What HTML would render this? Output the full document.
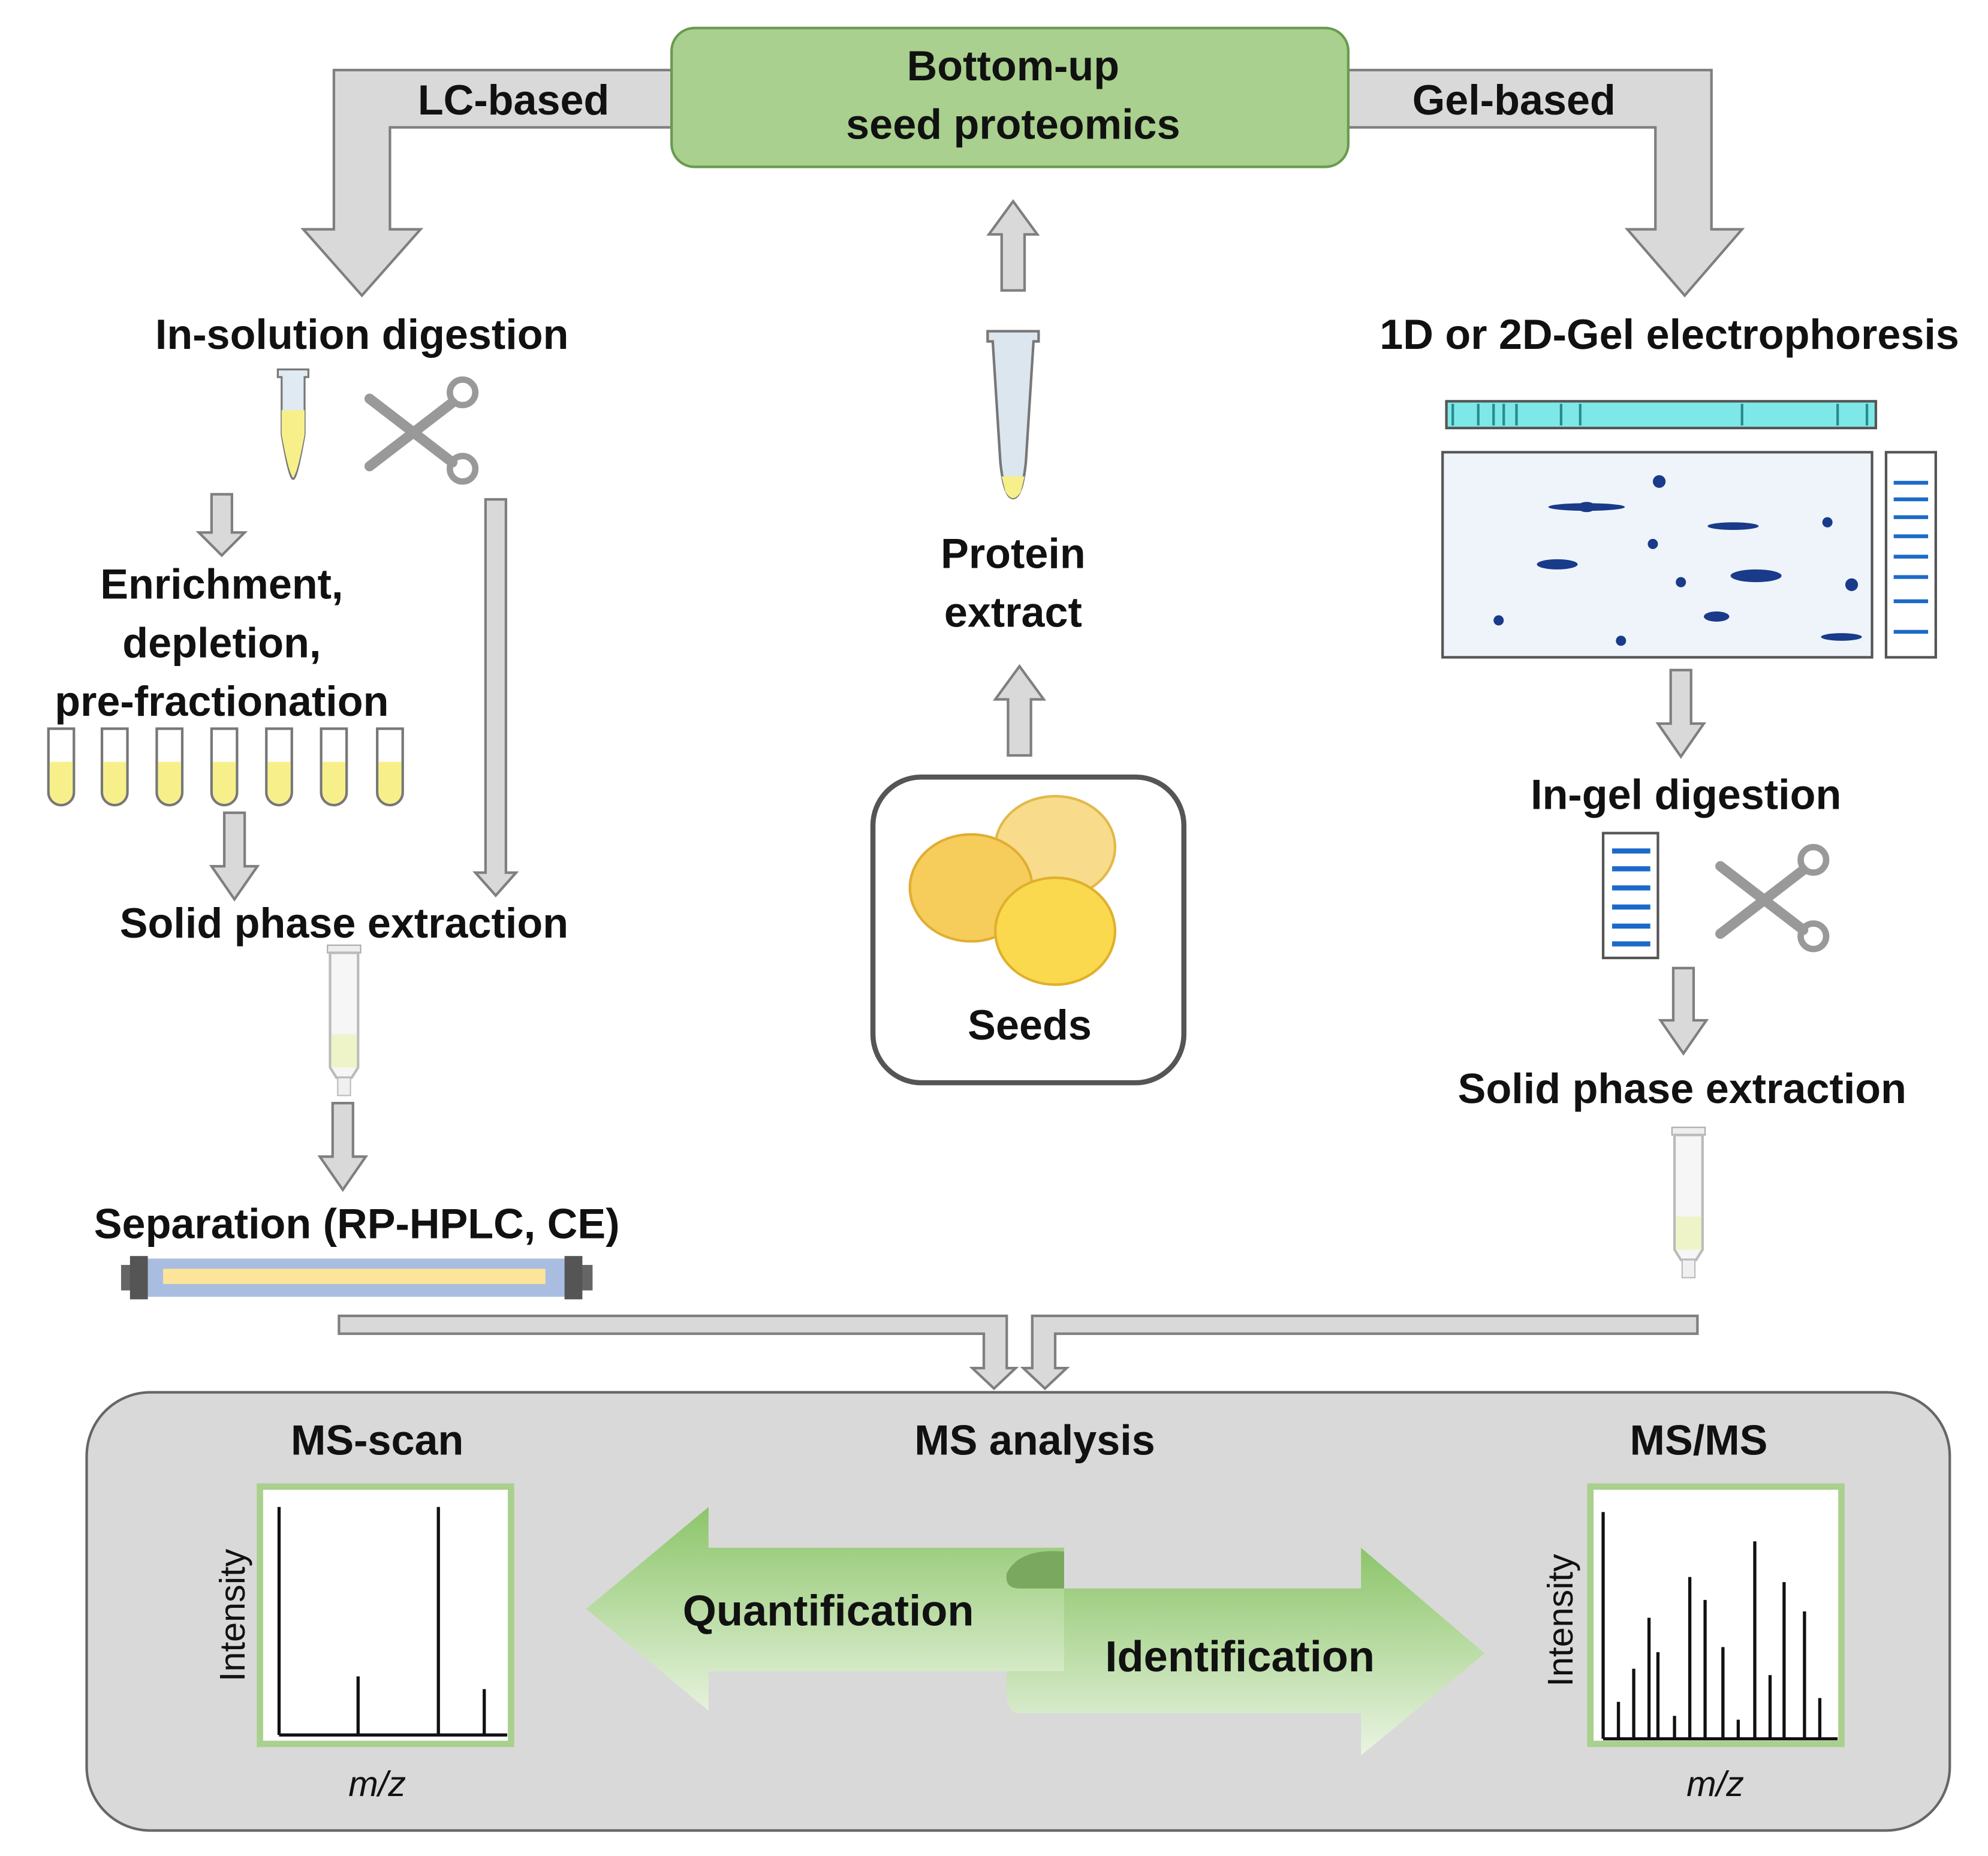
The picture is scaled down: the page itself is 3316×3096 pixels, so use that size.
<!DOCTYPE html>
<html><head><meta charset="utf-8"><style>
html,body{margin:0;padding:0;background:#fff}
svg{display:block}
text{font-family:"Liberation Sans",sans-serif;font-weight:bold;fill:#111;text-anchor:middle}
</style></head><body>
<svg width="3316" height="3096" viewBox="0 0 1560 1457" preserveAspectRatio="none" xmlns="http://www.w3.org/2000/svg">
<defs>
<linearGradient id="gq" x1="0" y1="0" x2="0" y2="1"><stop offset="0" stop-color="#8cc56a"/><stop offset="1" stop-color="#e6f2dc"/></linearGradient>
<linearGradient id="gi" x1="0" y1="0" x2="0" y2="1"><stop offset="0" stop-color="#8cc56a"/><stop offset="1" stop-color="#eaf4e2"/></linearGradient>
<g id="arr"><polygon points="-8,0 8,0 8,30 18,30 0,48 -18,30 -8,30" fill="#d9d9d9" stroke="#7f7f7f" stroke-width="2"/></g>
<g id="uarr"><polygon points="-9,70 9,70 9,26 19,26 0,0 -19,26 -9,26" fill="#d9d9d9" stroke="#7f7f7f" stroke-width="2"/></g>
<g id="tube"><path d="M-10,0 h20 v50 a10,10 0 0 1 -20,0 z" fill="#fff" stroke="#777" stroke-width="2"/><path d="M-9,26 h18 v24 a9,9 0 0 1 -18,0 z" fill="#f7f08a"/></g>
<g id="spe"><rect x="-13" y="0" width="26" height="6" fill="#eee" stroke="#aaa"/><path d="M-11,6 h22 v90 l-5,8 h-12 l-5,-8 z" fill="#f6f6f6" stroke="#bbb" stroke-width="2"/><rect x="-10" y="70" width="20" height="26" fill="#eef3c8"/><rect x="-5" y="104" width="10" height="14" fill="#f0f0f0" stroke="#bbb"/></g>
<g id="sc" fill="none" stroke="#999" stroke-width="8" stroke-linecap="round"><line x1="-40" y1="-25" x2="25" y2="25"/><line x1="-40" y1="28" x2="25" y2="-22"/><circle cx="33" cy="-30" r="10" stroke-width="5"/><circle cx="33" cy="30" r="10" stroke-width="5"/></g>
</defs>

<polygon points="527,55 262,55 262,180 238,180 284,232 330,180 306,180 306,100 527,100" fill="#d9d9d9" stroke="#7f7f7f" stroke-width="2"/>
<polygon points="1058,55 1343,55 1343,180 1367,180 1322,232 1277,180 1299,180 1299,100 1058,100" fill="#d9d9d9" stroke="#7f7f7f" stroke-width="2"/>
<text x="403" y="90" font-size="33">LC-based</text>
<text x="1188" y="90" font-size="33">Gel-based</text>
<rect x="527" y="22" width="531" height="109" rx="18" fill="#a9d08e" stroke="#6a9a50" stroke-width="2"/>
<text x="795" y="63" font-size="33">Bottom-up</text>
<text x="795" y="109" font-size="33">seed proteomics</text>

<use href="#uarr" x="795" y="158"/>
<path d="M775,260 h40 v8 l-4,0 l-6,95 q-3,28 -10,28 q-7,0 -10,-28 l-6,-95 h-4 z" fill="#dce6ee" stroke="#777" stroke-width="2"/>
<path d="M786,374 h18 l-3,12 q-6,10 -12,0 z" fill="#f7f08a"/>
<text x="795" y="446" font-size="33">Protein</text>
<text x="795" y="492" font-size="33">extract</text>
<use href="#uarr" x="800" y="523"/>
<rect x="685" y="610" width="244" height="240" rx="38" fill="#fff" stroke="#555" stroke-width="4"/>
<ellipse cx="828" cy="665" rx="47" ry="40" fill="#f8dc8c" stroke="#e2b94a" stroke-width="2"/>
<ellipse cx="762" cy="697" rx="48" ry="42" fill="#f6cd5a" stroke="#e0ae34" stroke-width="2"/>
<ellipse cx="828" cy="731" rx="47" ry="42" fill="#fbd94e" stroke="#e0b02c" stroke-width="2"/>
<text x="808" y="816" font-size="33">Seeds</text>

<text x="284" y="274" font-size="33">In-solution digestion</text>
<path d="M218,290 h24 v6 h-3 v45 q-6,35 -9,35 q-3,0 -9,-35 v-45 h-3 z" fill="#e0eaf2" stroke="#777" stroke-width="1.5"/>
<path d="M221,322 h18 v19 q-6,33 -9,33 q-3,0 -9,-33 z" fill="#f7f08a"/>
<use href="#sc" x="330" y="338"/>
<use href="#arr" x="174" y="388"/>
<text x="174" y="470" font-size="33">Enrichment,</text>
<text x="174" y="516" font-size="33">depletion,</text>
<text x="174" y="562" font-size="33">pre-fractionation</text>
<use href="#tube" x="48" y="572"/><use href="#tube" x="90" y="572"/><use href="#tube" x="133" y="572"/><use href="#tube" x="176" y="572"/><use href="#tube" x="219" y="572"/><use href="#tube" x="262" y="572"/><use href="#tube" x="306" y="572"/>
<polygon points="176,638 192,638 192,680 202,680 184,706 166,680 176,680" fill="#d9d9d9" stroke="#7f7f7f" stroke-width="2"/>
<polygon points="381,392 397,392 397,685 405,685 389,703 373,685 381,685" fill="#d9d9d9" stroke="#7f7f7f" stroke-width="2"/>
<text x="270" y="736" font-size="33">Solid phase extraction</text>
<use href="#spe" x="270" y="742"/>
<polygon points="261,866 277,866 277,908 287,908 269,934 251,908 261,908" fill="#d9d9d9" stroke="#7f7f7f" stroke-width="2"/>
<text x="280" y="972" font-size="33">Separation (RP-HPLC, CE)</text>
<rect x="110" y="988" width="340" height="30" fill="#a9bde0"/>
<rect x="128" y="996" width="300" height="12" fill="#fce49a"/>
<rect x="95" y="993" width="20" height="20" fill="#666"/><rect x="102" y="986" width="14" height="34" fill="#555"/>
<rect x="445" y="993" width="20" height="20" fill="#666"/><rect x="443" y="986" width="14" height="34" fill="#555"/>

<text x="1310" y="274" font-size="33">1D or 2D-Gel electrophoresis</text>
<rect x="1135" y="315" width="337" height="21" fill="#7ee8e8" stroke="#555" stroke-width="2"/>
<g stroke="#2a8a8a" stroke-width="2"><line x1="1140" y1="317" x2="1140" y2="334"/><line x1="1160" y1="317" x2="1160" y2="334"/><line x1="1172" y1="317" x2="1172" y2="334"/><line x1="1180" y1="317" x2="1180" y2="334"/><line x1="1190" y1="317" x2="1190" y2="334"/><line x1="1225" y1="317" x2="1225" y2="334"/><line x1="1240" y1="317" x2="1240" y2="334"/><line x1="1367" y1="317" x2="1367" y2="334"/><line x1="1442" y1="317" x2="1442" y2="334"/><line x1="1465" y1="317" x2="1465" y2="334"/></g>
<rect x="1132" y="355" width="337" height="161" fill="#eef4fa" stroke="#555" stroke-width="2"/>
<g fill="#1a3a8a">
<ellipse cx="1245" cy="398" rx="30" ry="3"/><ellipse cx="1245" cy="398" rx="7" ry="4"/>
<circle cx="1302" cy="378" r="5"/><ellipse cx="1360" cy="413" rx="20" ry="3"/><circle cx="1434" cy="410" r="4"/>
<ellipse cx="1222" cy="443" rx="16" ry="4"/><circle cx="1297" cy="427" r="4"/><ellipse cx="1378" cy="452" rx="20" ry="5"/>
<circle cx="1319" cy="457" r="4"/><circle cx="1453" cy="459" r="5"/><circle cx="1176" cy="487" r="4"/>
<ellipse cx="1347" cy="484" rx="10" ry="4"/><circle cx="1272" cy="503" r="4"/><ellipse cx="1445" cy="500" rx="16" ry="3"/>
</g>
<rect x="1480" y="355" width="39" height="161" fill="#fff" stroke="#555" stroke-width="2"/>
<g stroke="#1b6ac9" stroke-width="3"><line x1="1486" y1="379" x2="1513" y2="379"/><line x1="1486" y1="392" x2="1513" y2="392"/><line x1="1486" y1="406" x2="1513" y2="406"/><line x1="1486" y1="421" x2="1513" y2="421"/><line x1="1486" y1="437" x2="1513" y2="437"/><line x1="1486" y1="453" x2="1513" y2="453"/><line x1="1486" y1="472" x2="1513" y2="472"/><line x1="1486" y1="496" x2="1513" y2="496"/></g>
<polygon points="1311,526 1327,526 1327,568 1337,568 1319,594 1301,568 1311,568" fill="#d9d9d9" stroke="#7f7f7f" stroke-width="2"/>
<text x="1323" y="635" font-size="33">In-gel digestion</text>
<rect x="1258" y="654" width="43" height="98" fill="#fff" stroke="#555" stroke-width="2"/>
<g stroke="#1b6ac9" stroke-width="4"><line x1="1265" y1="668" x2="1295" y2="668"/><line x1="1265" y1="682" x2="1295" y2="682"/><line x1="1265" y1="697" x2="1295" y2="697"/><line x1="1265" y1="712" x2="1295" y2="712"/><line x1="1265" y1="727" x2="1295" y2="727"/><line x1="1265" y1="741" x2="1295" y2="741"/></g>
<use href="#sc" x="1390" y="705"/>
<polygon points="1313,760 1329,760 1329,801 1339,801 1321,827 1303,801 1313,801" fill="#d9d9d9" stroke="#7f7f7f" stroke-width="2"/>
<text x="1320" y="866" font-size="33">Solid phase extraction</text>
<use href="#spe" x="1325" y="885"/>

<polygon points="266,1033 790,1033 790,1074 797,1074 780,1090 763,1074 772,1074 772,1047 266,1047" fill="#d9d9d9" stroke="#7f7f7f" stroke-width="2"/>
<polygon points="1332,1033 810,1033 810,1074 803,1074 820,1090 837,1074 828,1074 828,1047 1332,1047" fill="#d9d9d9" stroke="#7f7f7f" stroke-width="2"/>

<rect x="68" y="1093" width="1462" height="344" rx="50" fill="#d9d9d9" stroke="#666" stroke-width="2"/>
<text x="296" y="1142" font-size="33">MS-scan</text>
<text x="812" y="1142" font-size="33">MS analysis</text>
<text x="1333" y="1142" font-size="33">MS/MS</text>

<path d="M790,1247 H1068 V1215 L1165,1298 L1068,1378 V1345 H800 Q788,1345 790,1320 Z" fill="url(#gi)"/>
<path d="M835,1215 H556 V1183 L460,1263 L556,1343 V1312 H835 Z" fill="url(#gq)"/>
<path d="M790,1235 Q800,1215 835,1218 V1247 H800 Q788,1247 790,1235 Z" fill="#7aa85e"/>
<text x="650" y="1276" font-size="34">Quantification</text>
<text x="973" y="1312" font-size="34">Identification</text>

<rect x="204" y="1167" width="197" height="202" fill="#fff" stroke="#a9d08e" stroke-width="5"/>
<g stroke="#111" stroke-width="2.5"><line x1="219" y1="1183" x2="219" y2="1362"/><line x1="219" y1="1362" x2="398" y2="1362"/><line x1="281" y1="1316" x2="281" y2="1362"/><line x1="344" y1="1183" x2="344" y2="1362"/><line x1="380" y1="1326" x2="380" y2="1362"/></g>
<text x="0" y="0" font-size="28" transform="translate(192,1268) rotate(-90)" style="font-weight:normal">Intensity</text>
<text x="296" y="1410" font-size="28" font-style="italic" style="font-weight:normal">m/z</text>
<rect x="1248" y="1167" width="197" height="202" fill="#fff" stroke="#a9d08e" stroke-width="5"/>
<g stroke="#111" stroke-width="2.5"><line x1="1258" y1="1187" x2="1258" y2="1365"/><line x1="1258" y1="1365" x2="1442" y2="1365"/>
<line x1="1270" y1="1336" x2="1270" y2="1365"/><line x1="1282" y1="1310" x2="1282" y2="1365"/><line x1="1294" y1="1270" x2="1294" y2="1365"/><line x1="1301" y1="1297" x2="1301" y2="1365"/><line x1="1314" y1="1347" x2="1314" y2="1365"/><line x1="1326" y1="1238" x2="1326" y2="1365"/><line x1="1338" y1="1256" x2="1338" y2="1365"/><line x1="1352" y1="1293" x2="1352" y2="1365"/><line x1="1364" y1="1350" x2="1364" y2="1365"/><line x1="1377" y1="1210" x2="1377" y2="1365"/><line x1="1389" y1="1315" x2="1389" y2="1365"/><line x1="1400" y1="1242" x2="1400" y2="1365"/><line x1="1416" y1="1265" x2="1416" y2="1365"/><line x1="1428" y1="1333" x2="1428" y2="1365"/></g>
<text x="0" y="0" font-size="28" transform="translate(1234,1272) rotate(-90)" style="font-weight:normal">Intensity</text>
<text x="1346" y="1410" font-size="28" font-style="italic" style="font-weight:normal">m/z</text>
</svg>
</body></html>
